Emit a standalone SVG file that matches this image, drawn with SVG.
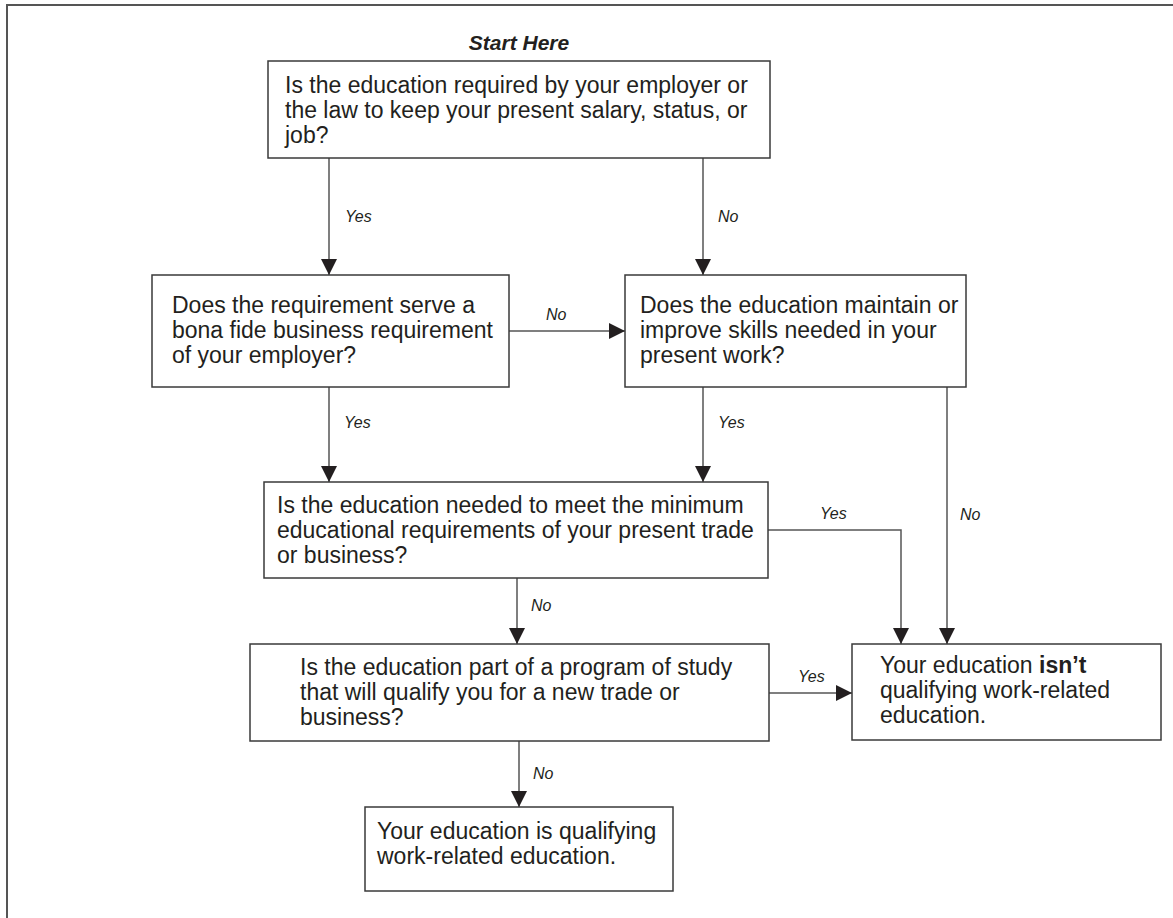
<svg xmlns="http://www.w3.org/2000/svg" width="1173" height="918" viewBox="0 0 1173 918">
<defs>
<marker id="ah" viewBox="0 0 16 16" refX="16" refY="8" markerWidth="16" markerHeight="16" markerUnits="userSpaceOnUse" orient="auto">
<path d="M0,0 L16,8 L0,16 Z" fill="#231f20"/>
</marker>
</defs>
<style>
.box{fill:#fff;stroke:#3a3a3a;stroke-width:1.5}
.t{font-family:"Liberation Sans",Arial,Helvetica,sans-serif;font-size:23px;fill:#231f20}
.lbl{font-family:"Liberation Sans",Arial,Helvetica,sans-serif;font-size:16px;font-style:italic;fill:#231f20}
.c{fill:none;stroke:#555;stroke-width:1.5;marker-end:url(#ah)}
.frame{fill:none;stroke:#555;stroke-width:2}
</style>
<rect width="1173" height="918" fill="#fff"/>
<path class="frame" d="M7,918 L7,5 L1173,5"/>
<text x="519" y="50" text-anchor="middle" font-family="Liberation Sans,Arial,sans-serif" font-size="21" font-weight="bold" font-style="italic" fill="#231f20">Start Here</text>
<g id="connectors">
<path class="c" d="M329,158 L329,275"/>
<path class="c" d="M703,158 L703,275"/>
<path class="c" d="M509,331 L625,331"/>
<path class="c" d="M329,387 L329,482"/>
<path class="c" d="M703,387 L703,482"/>
<path class="c" d="M947,387 L947,644"/>
<path class="c" d="M768,530 L901,530 L901,644"/>
<path class="c" d="M517,578 L517,644"/>
<path class="c" d="M769,693 L852,693"/>
<path class="c" d="M519,741 L519,807"/>
<text class="lbl" x="345" y="222">Yes</text>
<text class="lbl" x="718" y="222">No</text>
<text class="lbl" x="546" y="320">No</text>
<text class="lbl" x="344" y="428">Yes</text>
<text class="lbl" x="718" y="428">Yes</text>
<text class="lbl" x="960" y="520">No</text>
<text class="lbl" x="820" y="519">Yes</text>
<text class="lbl" x="531" y="611">No</text>
<text class="lbl" x="798" y="682">Yes</text>
<text class="lbl" x="533" y="779">No</text>
</g>
<g id="n1">
<rect class="box" x="268" y="61" width="502" height="97"/>
<text class="t" x="285" y="93">Is the education required by your employer or</text>
<text class="t" x="285" y="118">the law to keep your present salary, status, or</text>
<text class="t" x="285" y="143">job?</text>
</g>
<g id="n2">
<rect class="box" x="152" y="275" width="357" height="112"/>
<text class="t" x="172" y="313">Does the requirement serve a</text>
<text class="t" x="172" y="338">bona fide business requirement</text>
<text class="t" x="172" y="363">of your employer?</text>
</g>
<g id="n3">
<rect class="box" x="625" y="275" width="341" height="112"/>
<text class="t" x="640" y="313">Does the education maintain or</text>
<text class="t" x="640" y="338">improve skills needed in your</text>
<text class="t" x="640" y="363">present work?</text>
</g>
<g id="n4">
<rect class="box" x="264" y="482" width="504" height="96"/>
<text class="t" x="277" y="513">Is the education needed to meet the minimum</text>
<text class="t" x="277" y="538">educational requirements of your present trade</text>
<text class="t" x="277" y="563">or business?</text>
</g>
<g id="n5">
<rect class="box" x="250" y="644" width="519" height="97"/>
<text class="t" x="300" y="675">Is the education part of a program of study</text>
<text class="t" x="300" y="700">that will qualify you for a new trade or</text>
<text class="t" x="300" y="725">business?</text>
</g>
<g id="n6">
<rect class="box" x="852" y="644" width="309" height="96"/>
<text class="t" x="880" y="673">Your education <tspan font-weight="bold">isn’t</tspan></text>
<text class="t" x="880" y="698">qualifying work-related</text>
<text class="t" x="880" y="723">education.</text>
</g>
<g id="n7">
<rect class="box" x="365" y="807" width="308" height="84"/>
<text class="t" x="377" y="839">Your education is qualifying</text>
<text class="t" x="377" y="864">work-related education.</text>
</g>
</svg>
